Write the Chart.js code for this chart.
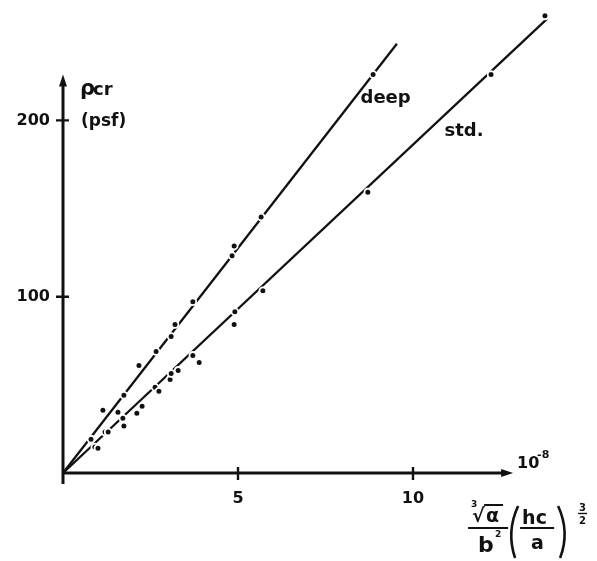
<!DOCTYPE html>
<html lang="en">
<head>
    <meta charset="UTF-8">
    <title>Critical pressure vs. plate parameter</title>
    <script src="https://cdn.jsdelivr.net/npm/chart.js"></script>
    <style>
        body {
            margin: 0;
            background: #ffffff;
        }
        .chart-container {
            width: 597px;
            height: 561px;
            position: relative;
        }
    </style>
</head>
<body>
    <div class="chart-container">
        <canvas id="pcrChart"></canvas>
    </div>

    <script>
        // tick positions
        const xTicks = [5, 10];
        const yTicks = [100, 200];

        // measured points, deep plates
        const deepX = [0.80, 1.14, 1.57, 1.74, 2.17, 2.66, 3.09, 3.20, 3.71, 4.83, 4.89, 5.66, 8.86];
        const deepY = [19.2, 35.6, 34.5, 44.1, 61.0, 68.9, 77.4, 84.2, 97.2, 123.2, 128.8, 145.2, 226.0];

        // measured points, standard plates
        const stdX = [0.91, 1.00, 1.20, 1.29, 1.71, 1.74, 2.11, 2.26, 2.63, 2.74, 3.06, 3.09, 3.29, 3.71, 3.89, 4.89, 4.91, 5.71, 8.71, 12.23, 13.77];
        const stdY = [14.7, 14.1, 23.2, 23.2, 31.1, 26.6, 33.9, 37.9, 48.6, 46.3, 53.1, 56.5, 58.2, 66.7, 62.7, 84.2, 91.5, 103.4, 159.3, 226.0, 259.3];

        // fitted straight lines through the origin
        const deepFitX = [0, 9.54];
        const deepFitY = [0, 243.5];
        const stdFitX = [0, 13.83];
        const stdFitY = [0, 257.6];

        const toPoints = (xs, ys) => xs.map((x, i) => ({ x: x, y: ys[i] }));

        const INK = '#111111';
        const FONT = '"DejaVu Sans", sans-serif';

        // where the drawn axis arrows stop (data units)
        const X_ARROW = 12.86;
        const Y_ARROW = 226;

        const pointStyle = {
            showLine: false,
            pointRadius: 3.4,
            pointBorderWidth: 1.8,
            pointBackgroundColor: INK,
            pointBorderColor: '#ffffff',
            clip: false
        };

        const lineStyle = {
            showLine: true,
            borderColor: INK,
            borderWidth: 2.3,
            pointRadius: 0,
            clip: false
        };

        function arrowHead(ctx, x, y, dir) {
            ctx.beginPath();
            if (dir === 'up') {
                ctx.moveTo(x, y);
                ctx.lineTo(x - 4, y + 12);
                ctx.lineTo(x + 4, y + 12);
            } else {
                ctx.moveTo(x, y);
                ctx.lineTo(x - 12, y - 4);
                ctx.lineTo(x - 12, y + 4);
            }
            ctx.closePath();
            ctx.fill();
        }

        const axesPlugin = {
            id: 'handAxes',
            beforeDatasetsDraw(chart) {
                const { ctx, scales: { x, y } } = chart;
                const x0 = x.getPixelForValue(0);
                const y0 = y.getPixelForValue(0);
                const xTip = x.getPixelForValue(X_ARROW);
                const yTip = y.getPixelForValue(Y_ARROW);
                ctx.save();
                ctx.strokeStyle = INK;
                ctx.fillStyle = INK;
                ctx.lineWidth = 3;
                ctx.lineCap = 'butt';

                ctx.beginPath();
                ctx.moveTo(x0, y0 + 11);
                ctx.lineTo(x0, yTip + 8);
                ctx.moveTo(x0 - 1.5, y0);
                ctx.lineTo(xTip - 8, y0);
                ctx.stroke();
                arrowHead(ctx, x0, yTip, 'up');
                arrowHead(ctx, xTip, y0, 'right');

                // tick marks crossing the axes
                ctx.lineWidth = 2.4;
                ctx.beginPath();
                xTicks.forEach(v => {
                    const px = x.getPixelForValue(v);
                    ctx.moveTo(px, y0 - 6);
                    ctx.lineTo(px, y0 + 7);
                });
                yTicks.forEach(v => {
                    const py = y.getPixelForValue(v);
                    ctx.moveTo(x0 - 7, py);
                    ctx.lineTo(x0 + 6, py);
                });
                ctx.stroke();
                ctx.restore();
            },
            afterDraw(chart) {
                const { ctx, scales: { x, y } } = chart;
                const x0 = x.getPixelForValue(0);
                const y0 = y.getPixelForValue(0);
                const xTip = x.getPixelForValue(X_ARROW);
                const yTip = y.getPixelForValue(Y_ARROW);
                ctx.save();
                ctx.fillStyle = INK;
                ctx.strokeStyle = INK;
                ctx.textBaseline = 'alphabetic';
                ctx.textAlign = 'left';

                // y axis title
                ctx.font = 'bold 21px ' + FONT;
                ctx.fillText('ρ', x0 + 17, yTip + 20);
                ctx.font = 'bold 18px ' + FONT;
                ctx.fillText('cr', x0 + 30, yTip + 20);
                ctx.font = 'bold 17px ' + FONT;
                ctx.fillText('(psf)', x0 + 18, y.getPixelForValue(200) + 6);

                // exponent at the end of the x axis
                ctx.font = 'bold 16px ' + FONT;
                ctx.fillText('10', xTip + 4, y0 - 5);
                ctx.font = 'bold 11px ' + FONT;
                ctx.fillText('-8', xTip + 24, y0 - 15);

                // series names
                ctx.font = 'bold 18px ' + FONT;
                ctx.fillText('deep', x.getPixelForValue(8.5), y.getPixelForValue(210));
                ctx.fillText('std.', x.getPixelForValue(10.9), y.getPixelForValue(191));

                // x axis title: cbrt(α)/b² · (hc/a)^(3/2)
                const ox = xTip - 45;
                const bar = y0 + 55;
                ctx.lineWidth = 2.2;
                ctx.font = 'bold 9px ' + FONT;
                ctx.fillText('3', ox + 3, bar - 21);
                ctx.font = 'bold 19px ' + FONT;
                ctx.fillText('√', ox + 4, bar - 6);
                ctx.fillText('α', ox + 18, bar - 6);
                ctx.beginPath();
                ctx.moveTo(ox + 16, bar - 23);
                ctx.lineTo(ox + 35, bar - 23);
                ctx.moveTo(ox, bar);
                ctx.lineTo(ox + 40, bar);
                ctx.stroke();
                ctx.font = 'bold 22px ' + FONT;
                ctx.fillText('b', ox + 10, bar + 24);
                ctx.font = 'bold 9px ' + FONT;
                ctx.fillText('2', ox + 27, bar + 9);

                // parentheses
                ctx.lineWidth = 2.6;
                ctx.beginPath();
                ctx.moveTo(ox + 50, bar - 22);
                ctx.quadraticCurveTo(ox + 38, bar + 4, ox + 47, bar + 30);
                ctx.moveTo(ox + 90, bar - 22);
                ctx.quadraticCurveTo(ox + 102, bar + 4, ox + 92, bar + 30);
                ctx.stroke();
                ctx.font = 'bold 19px ' + FONT;
                ctx.fillText('hc', ox + 54, bar - 4);
                ctx.fillText('a', ox + 63, bar + 21);
                ctx.lineWidth = 2.2;
                ctx.beginPath();
                ctx.moveTo(ox + 52, bar);
                ctx.lineTo(ox + 86, bar);
                ctx.stroke();

                // exponent 3/2
                ctx.font = 'bold 10px ' + FONT;
                ctx.fillText('3', ox + 111, bar - 17);
                ctx.fillText('2', ox + 111, bar - 4);
                ctx.lineWidth = 1.4;
                ctx.beginPath();
                ctx.moveTo(ox + 110, bar - 14.5);
                ctx.lineTo(ox + 119, bar - 14.5);
                ctx.stroke();
                ctx.restore();
            }
        };

        new Chart(document.getElementById('pcrChart').getContext('2d'), {
            type: 'scatter',
            data: {
                datasets: [
                    { label: 'deep', data: toPoints(deepX, deepY), ...pointStyle },
                    { label: 'std.', data: toPoints(stdX, stdY), ...pointStyle },
                    { label: 'deep fit', data: toPoints(deepFitX, deepFitY), ...lineStyle },
                    { label: 'std. fit', data: toPoints(stdFitX, stdFitY), ...lineStyle }
                ]
            },
            options: {
                responsive: true,
                maintainAspectRatio: false,
                animation: false,
                layout: { padding: { top: 4, right: 9, left: 0, bottom: 0 } },
                plugins: {
                    legend: { display: false },
                    tooltip: { enabled: false }
                },
                scales: {
                    x: {
                        type: 'linear',
                        min: 0,
                        max: 15,
                        grid: { display: false, drawTicks: false },
                        border: { display: false },
                        afterBuildTicks: s => { s.ticks = xTicks.map(v => ({ value: v })); },
                        afterFit: s => {
                            s.height = 88;
                            s.paddingLeft = 0;
                            s.paddingRight = 0;
                        },
                        ticks: {
                            color: INK,
                            padding: 16,
                            font: { family: FONT, size: 16, weight: 'bold' }
                        }
                    },
                    y: {
                        type: 'linear',
                        min: 0,
                        max: 265,
                        grid: { display: false, drawTicks: false },
                        border: { display: false },
                        afterBuildTicks: s => { s.ticks = yTicks.map(v => ({ value: v })); },
                        afterFit: s => {
                            s.width = 63;
                            s.paddingTop = 0;
                            s.paddingBottom = 0;
                        },
                        ticks: {
                            color: INK,
                            padding: 13,
                            font: { family: FONT, size: 16, weight: 'bold' }
                        }
                    }
                }
            },
            plugins: [axesPlugin]
        });
    </script>
</body>
</html>
